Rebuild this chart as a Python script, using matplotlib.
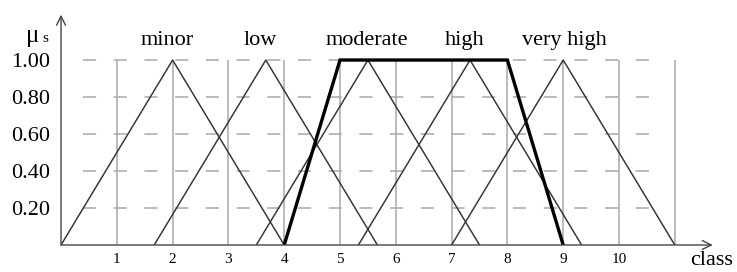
import matplotlib.pyplot as plt

plt.rcParams["font.family"] = "Liberation Serif"

# membership functions (class values)
minor = [0, 2, 4]
low = [1.67, 3.67, 5.67]
moderate = [3.5, 5.5, 7.5]
high = [5.33, 7.33, 9.33]
very_high = [7, 9, 11]
tri_mu = [0, 1, 0]

trap = [4, 5, 8, 9]
trap_mu = [0, 1, 1, 0]

labels = ["minor", "low", "moderate", "high", "very high"]
label_x = [1.9, 3.58, 5.48, 7.24, 9.03]

x_ticks = [1, 2, 3, 4, 5, 6, 7, 8, 9, 10]
y_ticks = [0.2, 0.4, 0.6, 0.8, 1.0]
grid_x = [1, 2, 3, 4, 5, 6, 7, 8, 9, 10, 11]

fig = plt.figure(figsize=(7.37, 2.72), dpi=100)
ax = fig.add_axes([0.0828, 0.0993, 0.9085, 0.850])
ax.set_xlim(0, 12)
ax.set_ylim(0, 1.25)

grid_col = "#a8a8a8"
ax.vlines(grid_x, 0, 1, color=grid_col, lw=1.1, zorder=1)
ax.hlines(y_ticks, 0.39, 10.61, color=grid_col, lw=1.1,
          linestyles=(0, (8.6, 11.5)), zorder=1)

for tri in [minor, low, moderate, high, very_high]:
    ax.plot(tri, tri_mu, color="#333333", lw=1.05, zorder=2)
ax.plot(trap, trap_mu, color="black", lw=2.4, zorder=3,
        solid_joinstyle="miter")

for name, lx in zip(labels, label_x):
    ax.text(lx, 1.08, name, ha="center", va="baseline", fontsize=16)

# axes with arrows
for s in ax.spines.values():
    s.set_visible(False)
arrow = dict(arrowstyle="->", color="#444444", lw=1.0,
             shrinkA=0, shrinkB=0, mutation_scale=16)
ax.annotate("", xy=(11.68, 0), xytext=(0, 0), arrowprops=arrow,
            annotation_clip=False)
ax.annotate("", xy=(0, 1.245), xytext=(0, 0), arrowprops=arrow,
            annotation_clip=False)

ax.set_xticks(x_ticks)
ax.set_xticklabels([str(v) for v in x_ticks], fontsize=11)
ax.set_yticks(y_ticks)
ax.set_yticklabels(["%.2f" % v for v in y_ticks], fontsize=16)
ax.tick_params(axis="x", length=0, pad=6)
ax.tick_params(axis="y", length=0, pad=8)

ax.text(-0.63, 1.10, "μ", fontsize=18, va="baseline", clip_on=False)
ax.text(-0.33, 1.10, "s", fontsize=11, va="baseline", clip_on=False)
ax.text(11.27, -0.11, "class", fontsize=16, va="baseline", clip_on=False)

fig.savefig("out.png", dpi=100)
